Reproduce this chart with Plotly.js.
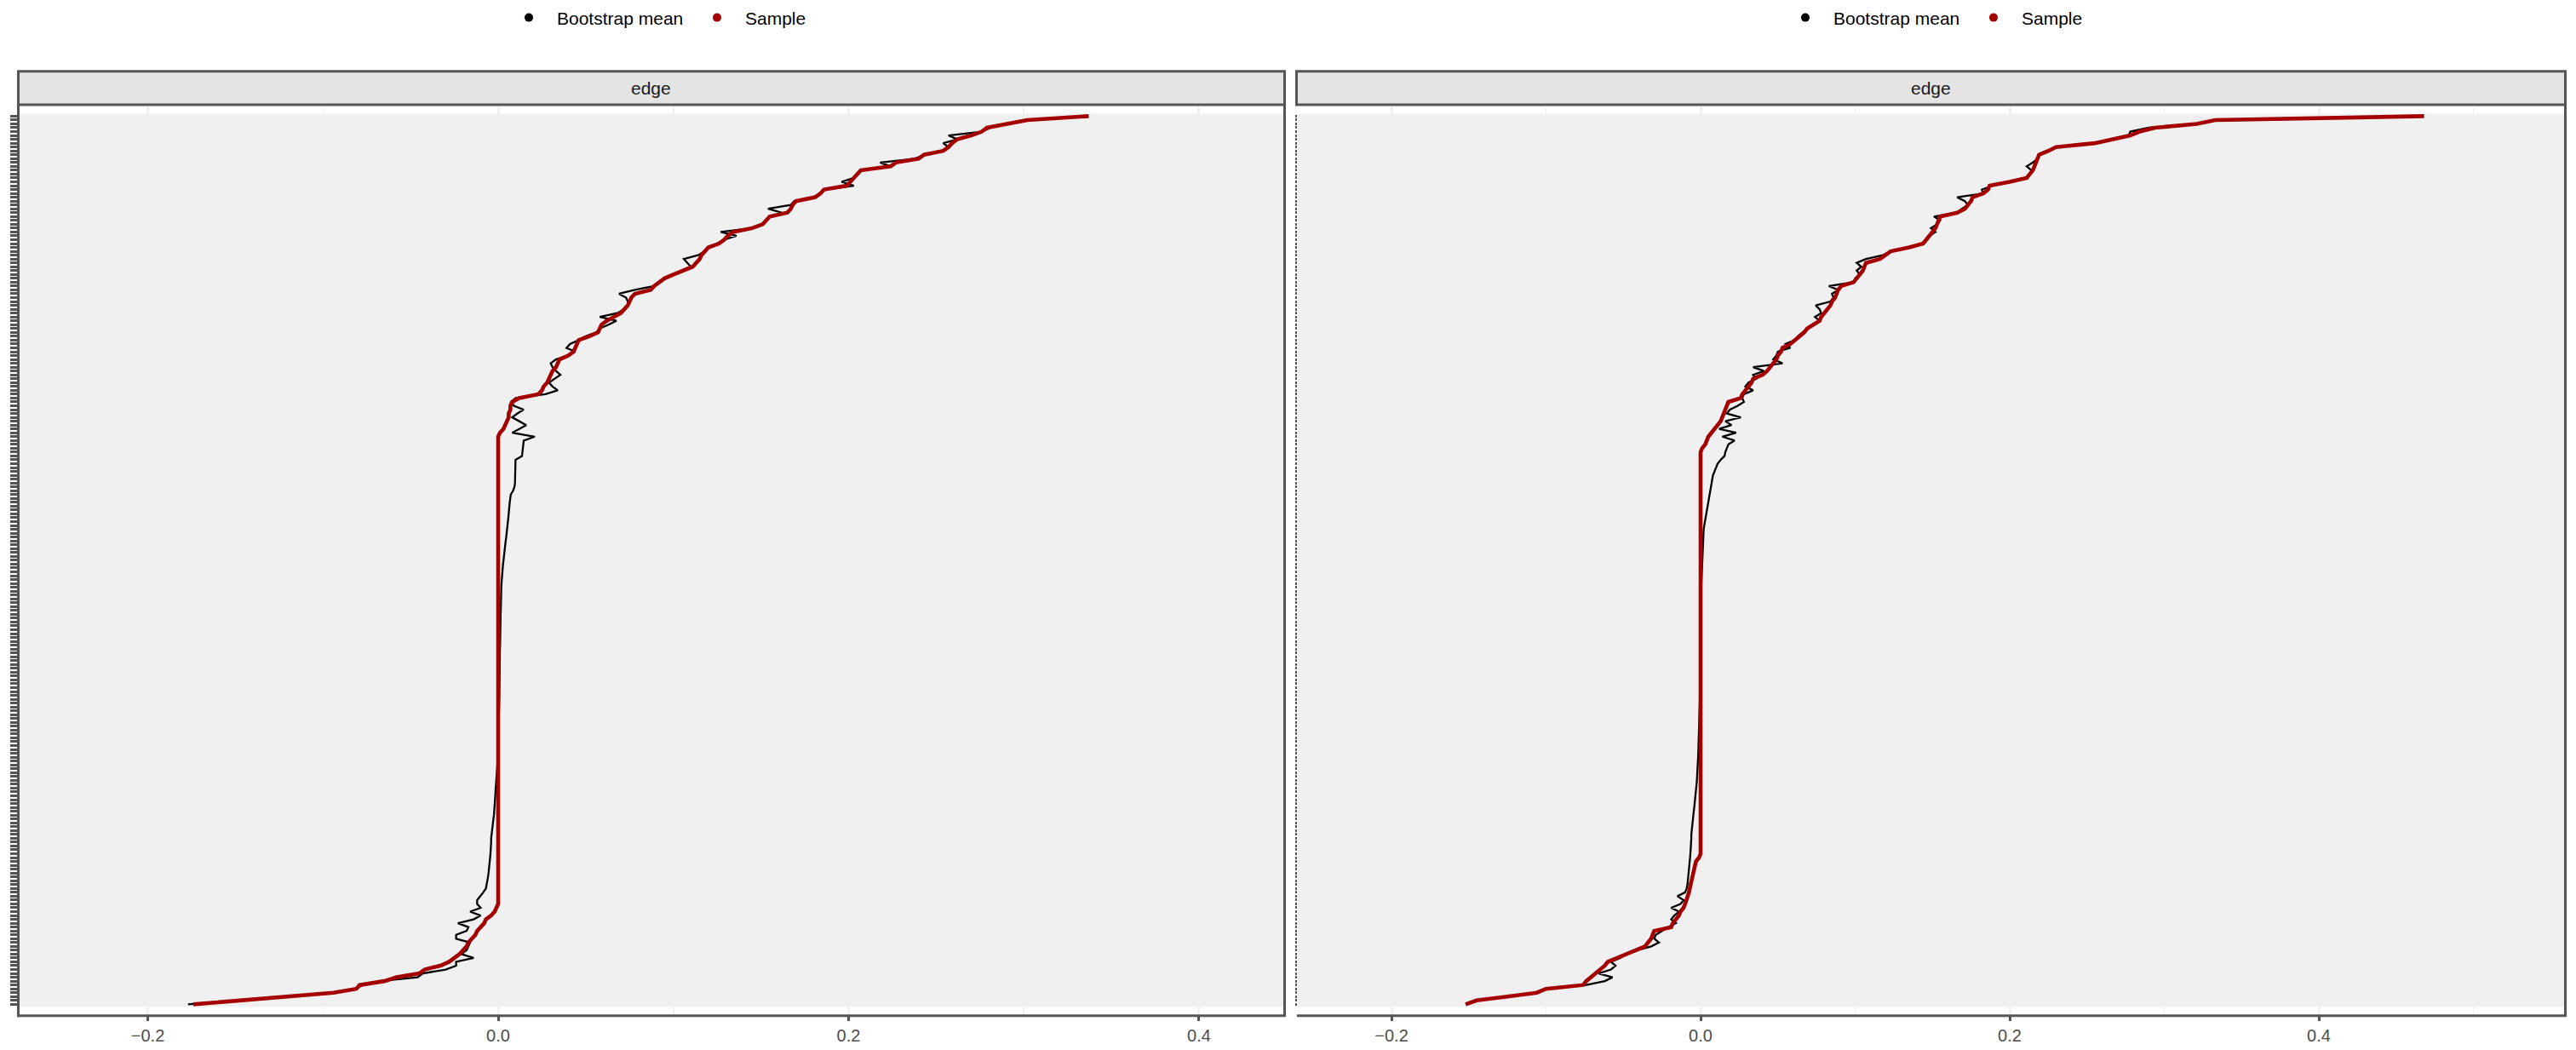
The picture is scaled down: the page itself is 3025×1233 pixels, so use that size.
<!DOCTYPE html>
<html>
<head>
<meta charset="utf-8">
<script src="https://cdn.plot.ly/plotly-3.0.1.min.js"></script>
<style>
  html, body { margin: 0; padding: 0; background: #ffffff; }
  #chart { width: 3025px; height: 1233px; }
</style>
</head>
<body>
<div id="chart"></div>
<script>
// ---------------- DATA ----------------
const seriesNames = ['Bootstrap mean', 'Sample'];
const stripLabels = ['edge', 'edge'];
const xTickVals = [-0.2, 0.0, 0.2, 0.4];
const xTickText = ['\u22120.2', '0.0', '0.2', '0.4'];
const xMinorVals = [-0.3, -0.1, 0.1, 0.3, 0.5];

// Left plot: sample estimate per edge (edges ordered bottom -> top)
const sampleLeft = [
  -0.174, -0.148, -0.121, -0.094, -0.081, -0.079, -0.065, -0.058, -0.045, -0.042,
  -0.033, -0.028, -0.025, -0.022, -0.020, -0.018, -0.017, -0.015, -0.013, -0.012,
  -0.010, -0.008, -0.007, -0.004, -0.002, -0.001, 0,
  0,0,0,0,0,0,0,0,0,0,0,0,0,0,0,0,0,0,0,0,
  0,0,0,0,0,0,0,0,0,0,0,0,0,0,0,0,0,0,0,0,
  0,0,0,0,0,0,0,0,0,0,0,0,0,0,0,0,0,0,0,0,
  0,0,0,0,0,0,0,0,0,0,0,0,0,0,0,0,0,0,0,0,
  0,0,0,0,0,0,0,0,0,0,0,0,0,0,0,0,0,0,0,0,
  0,0,0,0,0,0,0,0,0,0,0,0,0,0,0,0,0,0,0,0,
  0.000, 0.001, 0.003, 0.004, 0.005, 0.006, 0.006, 0.007, 0.007, 0.008,
  0.012, 0.023, 0.025, 0.026, 0.028, 0.029, 0.030, 0.031, 0.033, 0.034,
  0.035, 0.040, 0.043, 0.044, 0.045, 0.046, 0.052, 0.057, 0.058, 0.059,
  0.062, 0.066, 0.070, 0.072, 0.074, 0.075, 0.076, 0.078, 0.087, 0.089,
  0.092, 0.095, 0.100, 0.105, 0.111, 0.113, 0.115, 0.116, 0.118, 0.120,
  0.126, 0.129, 0.131, 0.134, 0.145, 0.151, 0.153, 0.155, 0.165, 0.167,
  0.168, 0.170, 0.181, 0.184, 0.186, 0.199, 0.201, 0.203, 0.205, 0.207,
  0.224, 0.227, 0.240, 0.243, 0.254, 0.257, 0.259, 0.262, 0.270, 0.276,
  0.279, 0.290, 0.302, 0.337
];

// Left plot: bootstrap mean per edge
const bootLeft = [
  -0.177, -0.150, -0.121, -0.095, -0.082, -0.077, -0.068, -0.046, -0.043, -0.030,
  -0.024, -0.024, -0.014, -0.021, -0.018, -0.017, -0.016, -0.024, -0.024, -0.018,
  -0.017, -0.023, -0.014, -0.010, -0.016, -0.010, -0.012, -0.012, -0.010, -0.0085,
  -0.007,
  -0.0065, -0.006, -0.0058, -0.0055, -0.0052, -0.005, -0.0048, -0.0046, -0.0044, -0.0042,
  -0.004, -0.004, -0.004, -0.0038, -0.0035, -0.0032, -0.003, -0.0027, -0.0024, -0.0022,
  -0.002, -0.0019, -0.0018, -0.0016, -0.0015, -0.0014, -0.0013, -0.0012, -0.001, -0.0008,
  -0.0006, -0.0004, -0.0003,
  -0.0002, -0.0001, 0, 0, 0.0001, 0.0001, 0.0002, 0.0002, 0.0003, 0.0003,
  0.0004, 0.0004, 0.0005, 0.0005, 0.0006, 0.0006, 0.0007, 0.0007, 0.0007, 0.0008,
  0.0008, 0.0008, 0.0009, 0.0009, 0.0009, 0.001, 0.001, 0.001, 0.001, 0.0011,
  0.0011, 0.0011, 0.0012, 0.0012,
  0.0013, 0.0013, 0.0014, 0.0014, 0.0015, 0.0015, 0.0016, 0.0016, 0.0017, 0.0018,
  0.0018, 0.0019, 0.002,
  0.0022, 0.0024, 0.0026, 0.0028, 0.003, 0.0032, 0.0034,
  0.0037, 0.004, 0.0043, 0.0046, 0.0049, 0.0052, 0.0054,
  0.0056, 0.0058, 0.006, 0.0061, 0.0063,
  0.0066, 0.0069, 0.0072,
  0.0085, 0.0093, 0.0096,
  0.0096, 0.0097, 0.0097, 0.0098, 0.0098, 0.0099,
  0.0136, 0.0138, 0.014, 0.0143, 0.0146,
  0.0209,
  0.008, 0.012, 0.016, 0.012, 0.008, 0.011, 0.0145, 0.009, 0.0075, 0.010,
  0.027, 0.034, 0.031, 0.029, 0.032, 0.0355, 0.033, 0.031, 0.030, 0.033,
  0.040, 0.044, 0.039, 0.041, 0.046, 0.050, 0.056, 0.058, 0.063, 0.0675,
  0.058, 0.068, 0.072, 0.074, 0.074, 0.073, 0.069, 0.078, 0.089, 0.092,
  0.095, 0.100, 0.105, 0.110, 0.108, 0.106, 0.114, 0.118, 0.120, 0.125,
  0.129, 0.136, 0.127, 0.145, 0.151, 0.153, 0.155, 0.162, 0.154, 0.167,
  0.169, 0.180, 0.184, 0.186, 0.203, 0.196, 0.203, 0.205, 0.207, 0.224,
  0.218, 0.238, 0.243, 0.253, 0.257, 0.254, 0.262, 0.257, 0.276, 0.281,
  0.290, 0.302, 0.337
];

// Right plot: sample estimate per edge
const sampleRight = [
  -0.152, -0.145, -0.125, -0.106, -0.100, -0.076, -0.074, -0.071, -0.068, -0.065,
  -0.062, -0.060, -0.054, -0.049, -0.042, -0.036, -0.034, -0.032, -0.031, -0.030,
  -0.019, -0.018, -0.016, -0.014, -0.013, -0.011, -0.010, -0.009, -0.008, -0.0075,
  -0.007, -0.0065, -0.006, -0.005, -0.0045, -0.004, -0.0035, -0.003, -0.001,
  0,0,0,0,0,0,0,0,0,0,0,0,0,0,0,0,0,0,0,0,
  0,0,0,0,0,0,0,0,0,0,0,0,0,0,0,0,0,0,0,0,
  0,0,0,0,0,0,0,0,0,0,0,0,0,0,0,0,0,0,0,0,
  0,0,0,0,0,0,0,0,0,0,0,0,0,0,0,0,0,0,0,0,
  0,0,0,0,0,0,0,0,0,0,0,0,0,0,0,0,0,0,0,0,
  0,0,0,0,0,
  0.001, 0.003, 0.004, 0.005, 0.007, 0.009, 0.011, 0.013, 0.014, 0.015,
  0.016, 0.017, 0.018, 0.026, 0.027, 0.029, 0.031, 0.033, 0.034, 0.040,
  0.043, 0.045, 0.047, 0.049, 0.050, 0.052, 0.053, 0.058, 0.061, 0.064,
  0.067, 0.069, 0.073, 0.077, 0.078, 0.080, 0.082, 0.084, 0.085, 0.087,
  0.088, 0.089, 0.091, 0.099, 0.101, 0.103, 0.105, 0.106, 0.107, 0.116,
  0.120, 0.123, 0.135, 0.144, 0.146, 0.148, 0.150, 0.152, 0.153, 0.154,
  0.155, 0.166, 0.171, 0.173, 0.175, 0.176, 0.183, 0.186, 0.187, 0.200,
  0.211, 0.213, 0.215, 0.216, 0.217, 0.218, 0.219, 0.225, 0.230, 0.255,
  0.268, 0.278, 0.284, 0.294, 0.321, 0.333, 0.468
];

// Right plot: bootstrap mean per edge
const bootRight = [
  -0.152, -0.146, -0.125, -0.106, -0.100, -0.074, -0.062, -0.057, -0.066, -0.058,
  -0.055, -0.058, -0.052, -0.048, -0.041, -0.032, -0.027, -0.030, -0.029, -0.025,
  -0.021, -0.016, -0.019, -0.017, -0.014, -0.019, -0.013, -0.011, -0.015, -0.010,
  -0.009, -0.0085, -0.0082, -0.008, -0.0078, -0.0075, -0.0072, -0.007, -0.0068, -0.0066,
  -0.0064, -0.0062, -0.0061, -0.006, -0.006, -0.0058, -0.0055, -0.0052, -0.005, -0.0047,
  -0.0044, -0.0041, -0.0038, -0.0035, -0.0032, -0.003, -0.0028, -0.0026, -0.0024, -0.0022,
  -0.002, -0.0019, -0.0018, -0.0017, -0.0016, -0.0015, -0.0014, -0.0013, -0.0012, -0.0011,
  -0.001, -0.0009, -0.0008, -0.0008, -0.0007, -0.0007, -0.0006, -0.0006, -0.0005, -0.0005,
  -0.0004, -0.0004, -0.0004, -0.0003, -0.0003, -0.0003, -0.0002, -0.0002, -0.0002, -0.0001,
  -0.0001, -0.0001, 0, 0, 0, 0, 0.0001, 0.0001, 0.0001, 0.0002,
  0.0002, 0.0002, 0.0003, 0.0003, 0.0003, 0.0004, 0.0004, 0.0004, 0.0005, 0.0005,
  0.0006, 0.0007, 0.0008, 0.0009, 0.001, 0.0011, 0.0012, 0.0013, 0.0014, 0.0015,
  0.0016, 0.0017, 0.0018, 0.002, 0.0024, 0.0028, 0.0032, 0.0037, 0.0042, 0.0048,
  0.0052, 0.0056, 0.006, 0.0064, 0.0068, 0.0072, 0.0076, 0.008, 0.009, 0.010,
  0.011, 0.013, 0.0155, 0.016, 0.017, 0.018, 0.022, 0.014, 0.023, 0.012,
  0.020, 0.016, 0.026, 0.017, 0.019, 0.024, 0.028, 0.027, 0.028, 0.034,
  0.029, 0.031, 0.036, 0.034, 0.041, 0.034, 0.053, 0.047, 0.049, 0.050,
  0.058, 0.055, 0.061, 0.063, 0.066, 0.069, 0.072, 0.077, 0.074, 0.078,
  0.077, 0.0745, 0.084, 0.086, 0.085, 0.089, 0.083, 0.099, 0.100, 0.103,
  0.101, 0.104, 0.101, 0.107, 0.118, 0.123, 0.133, 0.144, 0.146, 0.148,
  0.152, 0.149, 0.153, 0.155, 0.151, 0.166, 0.169, 0.173, 0.171, 0.166,
  0.183, 0.182, 0.189, 0.200, 0.211, 0.213, 0.214, 0.211, 0.215, 0.218,
  0.219, 0.224, 0.230, 0.255, 0.268, 0.277, 0.278, 0.290, 0.321, 0.333, 0.468
];

// edge positions on the (label-less) discrete y axis
const edgeRankLeft = sampleLeft.map((_, k) => k + 1);
const edgeRankRight = sampleRight.map((_, k) => k + 1);

// ---------------- STYLE ----------------
const W = 3025, H = 1233;
const FONT = 'Liberation Sans, Arial, sans-serif';
const BOOT_COLOR = '#000000';
const SAMPLE_COLOR = '#a50000';
const BORDER = '#555555';
const px = v => v / W;
const py = v => 1 - v / H;

const panels = [
  {xa: 'x', ya: 'y', xl: 21, xr: 1507, legend: 'legend', legendX: 588, boot: bootLeft, sample: sampleLeft, rank: edgeRankLeft,
   range: [-0.27412, 0.44812], ticklen: 8},
  {xa: 'x2', ya: 'y2', xl: 1524, xr: 3011, legend: 'legend2', legendX: 2087, boot: bootRight, sample: sampleRight, rank: edgeRankRight,
   range: [-0.26061, 0.55868], ticklen: 2}
];
const plotTop = 121, plotBottom = 1191, stripTop = 80, stripBottom = 119.5;
const yRange = [-1.6, 233.6];
const bandLo = 0.4, bandHi = 231.6;

const traces = [];
panels.forEach((p) => {
  traces.push({type: 'scatter', mode: 'lines', x: p.boot, y: p.rank, xaxis: p.xa, yaxis: p.ya,
    line: {color: BOOT_COLOR, width: 2.3}, showlegend: false, hoverinfo: 'skip'});
  traces.push({type: 'scatter', mode: 'lines', x: p.sample, y: p.rank, xaxis: p.xa, yaxis: p.ya,
    line: {color: SAMPLE_COLOR, width: 4.6}, showlegend: false, hoverinfo: 'skip'});
  traces.push({type: 'scatter', mode: 'markers', x: [null], y: [null], xaxis: p.xa, yaxis: p.ya,
    name: seriesNames[0], legend: p.legend, marker: {color: BOOT_COLOR, size: 10}});
  traces.push({type: 'scatter', mode: 'markers', x: [null], y: [null], xaxis: p.xa, yaxis: p.ya,
    name: seriesNames[1], legend: p.legend, marker: {color: SAMPLE_COLOR, size: 10}});
});

const layout = {
  width: W, height: H,
  margin: {l: 0, r: 0, t: 0, b: 0, pad: 0},
  paper_bgcolor: '#ffffff',
  plot_bgcolor: '#ffffff',
  font: {family: FONT, size: 20, color: '#000000'},
  showlegend: true,
  shapes: [],
  annotations: []
};

const legendBase = {orientation: 'h', xanchor: 'left', yanchor: 'middle', y: py(17),
  font: {family: FONT, size: 21, color: '#000000'}, bgcolor: 'rgba(0,0,0,0)', itemclick: false,
  traceorder: 'normal', itemwidth: 56, entrywidth: 150};
layout.legend = Object.assign({}, legendBase, {x: px(panels[0].legendX)});
layout.legend2 = Object.assign({}, legendBase, {x: px(panels[1].legendX)});

panels.forEach((p, k) => {
  const sfx = k === 0 ? '' : '2';
  layout['xaxis' + sfx] = {
    domain: [px(p.xl), px(p.xr)], range: p.range, anchor: p.ya,
    tickmode: 'array', tickvals: xTickVals, ticktext: xTickText,
    ticks: 'outside', ticklen: 7, tickwidth: 3, tickcolor: BORDER,
    tickfont: {family: FONT, size: 20, color: '#4d4d4d'},
    showgrid: true, gridcolor: '#f0f0f0', gridwidth: 3,
    minor: {tickmode: 'array', tickvals: xMinorVals, showgrid: true, gridcolor: '#f0f0f0', gridwidth: 1.5, ticks: ''},
    zeroline: false, showline: false, fixedrange: true
  };
  layout['yaxis' + sfx] = {
    domain: [py(plotBottom), py(plotTop)], range: yRange, anchor: p.xa,
    tickmode: 'array', tickvals: p.rank, ticktext: p.rank.map(() => ''),
    showticklabels: false,
    ticks: 'outside', ticklen: p.ticklen, tickwidth: 3, tickcolor: BORDER,
    showgrid: false, zeroline: false, showline: false, fixedrange: true
  };
  // grey data band inside panel (drawn under grid lines and traces)
  layout.shapes.push({type: 'rect', xref: 'paper', yref: p.ya, x0: px(p.xl), x1: px(p.xr), y0: bandLo, y1: bandHi,
    fillcolor: '#f0f0f0', line: {width: 0}, layer: 'below'});
  // strip
  layout.shapes.push({type: 'rect', xref: 'paper', yref: 'paper',
    x0: px(k === 0 ? p.xl + 0.5 : p.xl - 1.5), x1: px(p.xr + 1.5), y0: py(stripBottom), y1: py(stripTop),
    fillcolor: '#e4e4e4', line: {color: BORDER, width: 3}, layer: 'above'});
  layout.annotations.push({xref: 'paper', yref: 'paper', x: px((p.xl + p.xr) / 2), y: py((stripTop + stripBottom) / 2),
    text: stripLabels[k], showarrow: false, xanchor: 'center', yanchor: 'middle',
    font: {family: FONT, size: 21, color: '#1a1a1a'}});
  // panel border: right and bottom (and left for first panel)
  layout.shapes.push({type: 'line', xref: 'paper', yref: 'paper', x0: px(p.xr + 1.5), x1: px(p.xr + 1.5),
    y0: py(plotBottom + 1.5), y1: py(stripBottom), line: {color: BORDER, width: 3}, layer: 'above'});
  layout.shapes.push({type: 'line', xref: 'paper', yref: 'paper', x0: px(p.xl - 1), x1: px(p.xr + 3),
    y0: py(plotBottom + 1.5), y1: py(plotBottom + 1.5), line: {color: BORDER, width: 3}, layer: 'above'});
  if (k === 0) {
    layout.shapes.push({type: 'line', xref: 'paper', yref: 'paper', x0: px(p.xl + 0.5), x1: px(p.xl + 0.5),
      y0: py(plotBottom + 3), y1: py(stripBottom), line: {color: BORDER, width: 3}, layer: 'above'});
  }
});

Plotly.newPlot('chart', traces, layout, {displayModeBar: false, responsive: false, staticPlot: true});
</script>
</body>
</html>
